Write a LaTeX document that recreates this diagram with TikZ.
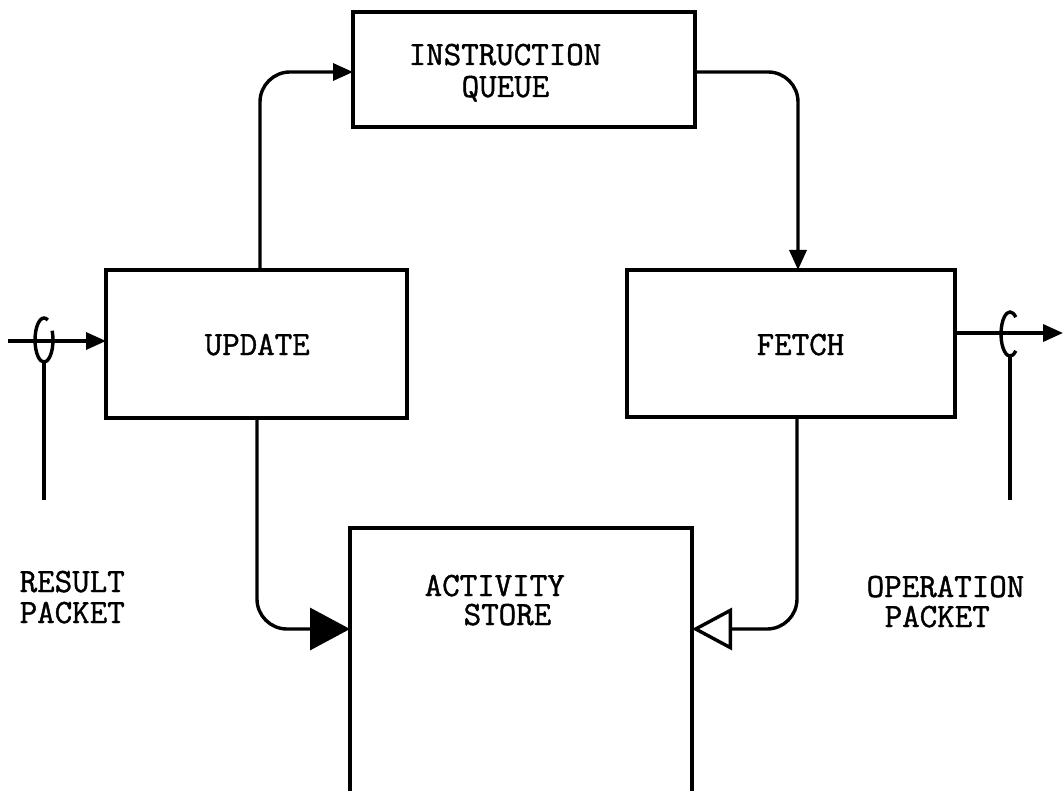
\documentclass[tikz,border=0pt]{standalone}
\usepackage{fontspec}
\usetikzlibrary{arrows.meta}
\newfontfamily\twfont{Latin Modern Mono}[FakeBold=1.2]
\begin{document}
\begin{tikzpicture}[x=1pt,y=-1pt,line width=3.4pt,
  block/.style={draw,line width=3.4pt,inner sep=0pt,outer sep=0pt,anchor=north west},
  lbl/.style={font=\fontsize{34}{32}\selectfont\twfont,inner sep=0pt,
              text height=21pt,text depth=0pt,anchor=base west},
  small/.style={-{Triangle[length=20pt,width=17pt]}},
  bigfill/.style={-{Triangle[length=40pt,width=42pt]}},
  bigopen/.style={-{Triangle[open,length=40pt,width=42pt,line width=3.4pt]}},
  link/.style={rounded corners=30pt}]
\useasboundingbox (0,0) rectangle (1064,791);

% functional blocks
\node[block,minimum width=342pt,minimum height=115pt] (iq) at (353,12) {};
\node[block,minimum width=301pt,minimum height=148pt] (upd) at (106,270) {};
\node[block,minimum width=328pt,minimum height=147pt] (fetch) at (627,270) {};
\node[block,minimum width=342pt,minimum height=266pt] (act) at (350,528) {};

% block captions
\node[lbl] (iqA) at (407,65) {INSTRUCTION};
\node[lbl] (iqB) at (460,97) {QUEUE};
\node[lbl] (updT) at (203,355) {UPDATE};
\node[lbl] (fetT) at (755,355) {FETCH};
\node[lbl] (actA) at (423,596) {ACTIVITY};
\node[lbl] (actB) at (462,625) {STORE};
\node[lbl] (resA) at (18,592) {RESULT};
\node[lbl] (resB) at (18,623) {PACKET};
\node[lbl] (opA) at (865,597) {OPERATION};
\node[lbl] (opB) at (883,627) {PACKET};

% internal data paths
\draw[small,link] ([xshift=154pt]upd.north west) |- ([yshift=-60pt]iq.north west);
\draw[small,link] ([yshift=-60pt]iq.north east) -| ([xshift=171pt]fetch.north west);
\draw[bigfill,link] ([xshift=151pt]upd.south west) |- ([yshift=-101pt]act.north west);
\draw[bigopen,link] ([xshift=170pt]fetch.south west) |- ([yshift=-101pt]act.north east);

% result packet input
\coordinate (inL) at (8,341);
\coordinate (loopL) at (44,340);
\coordinate (tailL) at (44,500);
\draw[small] (inL) -- (inL -| upd.west);
\draw ([shift={(-25:9 and 22)}]loopL) arc[start angle=-25,end angle=295,x radius=9,y radius=22];
\draw ([yshift=-22pt]loopL) -- (tailL);

% operation packet output
\coordinate (outR) at (1063,333);
\coordinate (loopR) at (1010,334);
\coordinate (tailR) at (1010,500);
\draw[small] (outR -| fetch.east) -- (outR);
\draw ([shift={(50:9 and 22)}]loopR) arc[start angle=50,end angle=310,x radius=9,y radius=22];
\draw ([yshift=-22pt]loopR) -- (tailR);
\end{tikzpicture}
\end{document}
